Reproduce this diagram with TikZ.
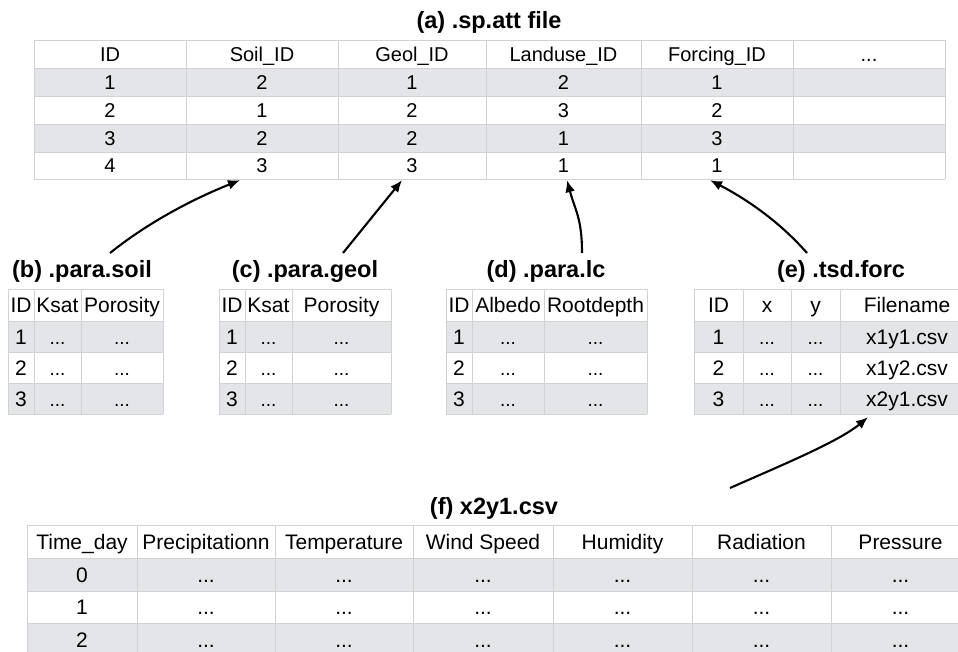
\documentclass[tikz,border=0pt]{standalone}
\usepackage{fontspec}
\setmainfont{Liberation Sans}
\usetikzlibrary{arrows.meta,calc}
\definecolor{rowg}{HTML}{E4E5E8}
\definecolor{gridc}{HTML}{D2D2D4}
\newcommand\dotsx{...}
\newcommand\sdots{{\fontsize{19}{22}\selectfont ...}}
\newcommand\trow[8]{%
  \foreach \t [count=\ci] in {#8}{%
    \pgfmathsetmacro\xc{#6[\ci-1]}%
    \pgfmathsetmacro\wc{#7[\ci-1]}%
    \node[#5,minimum width=\wc pt,minimum height=#4pt] (#1-#2-\ci) at (\xc,#3) {\t};
  }}
\tikzset{
  cellA/.style={inner sep=0pt,anchor=center,font=\fontsize{20}{24}\selectfont,text height=14.3pt,text depth=0pt},
  cellB/.style={inner sep=0pt,anchor=center,font=\fontsize{21}{25}\selectfont,text height=15pt,text depth=0pt},
  gridl/.style={draw=gridc,line width=0.9pt},
  ttl/.style={font=\bfseries\fontsize{23.5}{28}\selectfont,anchor=base,inner sep=0pt},
  arr/.style={line width=2.1pt,-{Latex[length=12pt,width=10pt]}},
}
\begin{document}
\begin{tikzpicture}[x=1pt,y=-1pt]
\useasboundingbox (0,0) rectangle (958,652);
\clip (0,0) rectangle (958,652);
\fill[white] (0,0) rectangle (958,652);
% ---------- (a)
\def\axs{{110,262,412,563.5,717,869}}
\def\aws{{152,152,148,155,152,152}}
\node[ttl] (ta) at (489,29) {(a) .sp.att file};
\trow{a}{1}{54}{28}{fill=white,cellA}{\axs}{\aws}{ID,Soil\_ID,Geol\_ID,Landuse\_ID,Forcing\_ID,\dotsx}
\trow{a}{2}{82}{28}{fill=rowg,cellA}{\axs}{\aws}{1,2,1,2,1,{}}
\trow{a}{3}{110}{28}{fill=white,cellA}{\axs}{\aws}{2,1,2,3,2,{}}
\trow{a}{4}{138}{28}{fill=rowg,cellA}{\axs}{\aws}{3,2,2,1,3,{}}
\trow{a}{5}{165.5}{27}{fill=white,cellA}{\axs}{\aws}{4,3,3,1,1,{}}
\foreach \x in {34,186,338,486,641,793,945} \draw[gridl] (\x,40) -- (\x,179);
\foreach \y in {40,68,96,124,152,179} \draw[gridl] (34,\y) -- (945,\y);
% ---------- (b)
\def\bxs{{21,57.5,122}}
\def\bws{{26,47,82}}
\node[ttl] (tb) at (82,277) {(b) .para.soil};
\trow{b}{1}{305}{32}{fill=white,cellB}{\bxs}{\bws}{ID,Ksat,Porosity}
\trow{b}{2}{336.5}{31}{fill=rowg,cellB}{\bxs}{\bws}{1,\sdots,\sdots}
\trow{b}{3}{367.5}{31}{fill=white,cellB}{\bxs}{\bws}{2,\sdots,\sdots}
\trow{b}{4}{398.5}{31}{fill=rowg,cellB}{\bxs}{\bws}{3,\sdots,\sdots}
\foreach \x in {8,34,81,163} \draw[gridl] (\x,289) -- (\x,414);
\foreach \y in {289,321,352,383,414} \draw[gridl] (8,\y) -- (163,\y);
% ---------- (c)
\def\cxs{{232,268.5,341.5}}
\def\cws{{26,47,99}}
\node[ttl] (tc) at (305,277) {(c) .para.geol};
\trow{c}{1}{305}{32}{fill=white,cellB}{\cxs}{\cws}{ID,Ksat,Porosity}
\trow{c}{2}{336.5}{31}{fill=rowg,cellB}{\cxs}{\cws}{1,\sdots,\sdots}
\trow{c}{3}{367.5}{31}{fill=white,cellB}{\cxs}{\cws}{2,\sdots,\sdots}
\trow{c}{4}{398.5}{31}{fill=rowg,cellB}{\cxs}{\cws}{3,\sdots,\sdots}
\foreach \x in {219,245,292,391} \draw[gridl] (\x,289) -- (\x,414);
\foreach \y in {289,321,352,383,414} \draw[gridl] (219,\y) -- (391,\y);
% ---------- (d)
\def\dxs{{459,508,595.5}}
\def\dws{{26,72,103}}
\node[ttl] (td) at (546,277) {(d) .para.lc};
\trow{d}{1}{305}{32}{fill=white,cellB}{\dxs}{\dws}{ID,Albedo,Rootdepth}
\trow{d}{2}{336.5}{31}{fill=rowg,cellB}{\dxs}{\dws}{1,\sdots,\sdots}
\trow{d}{3}{367.5}{31}{fill=white,cellB}{\dxs}{\dws}{2,\sdots,\sdots}
\trow{d}{4}{398.5}{31}{fill=rowg,cellB}{\dxs}{\dws}{3,\sdots,\sdots}
\foreach \x in {446,472,544,647} \draw[gridl] (\x,289) -- (\x,414);
\foreach \y in {289,321,352,383,414} \draw[gridl] (446,\y) -- (647,\y);
% ---------- (e)
\def\exs{{718.5,767,815.5,907}}
\def\ews{{49,48,49,134}}
\node[ttl] (te) at (841,277) {(e) .tsd.forc};
\trow{e}{1}{305}{32}{fill=white,cellB}{\exs}{\ews}{ID,x,y,Filename}
\trow{e}{2}{336.5}{31}{fill=rowg,cellB}{\exs}{\ews}{1,\sdots,\sdots,x1y1.csv}
\trow{e}{3}{367.5}{31}{fill=white,cellB}{\exs}{\ews}{2,\sdots,\sdots,x1y2.csv}
\trow{e}{4}{398.5}{31}{fill=rowg,cellB}{\exs}{\ews}{3,\sdots,\sdots,x2y1.csv}
\foreach \x in {694,743,791,840,974} \draw[gridl] (\x,289) -- (\x,414);
\foreach \y in {289,321,352,383,414} \draw[gridl] (694,\y) -- (974,\y);
% ---------- (f)
\def\fxs{{82,206,344,483,622.5,761.5,900.5}}
\def\fws{{110,138,138,140,139,139,139}}
\node[ttl] (tf) at (494,514) {(f) x2y1.csv};
\trow{f}{1}{541.5}{33}{fill=white,cellB}{\fxs}{\fws}{Time\_day,Precipitationn,Temperature,Wind Speed,Humidity,Radiation,Pressure}
\trow{f}{2}{574.5}{33}{fill=rowg,cellB}{\fxs}{\fws}{0,\dotsx,\dotsx,\dotsx,\dotsx,\dotsx,\dotsx}
\trow{f}{3}{607}{32}{fill=white,cellB}{\fxs}{\fws}{1,\dotsx,\dotsx,\dotsx,\dotsx,\dotsx,\dotsx}
\trow{f}{4}{639.5}{33}{fill=rowg,cellB}{\fxs}{\fws}{2,\dotsx,\dotsx,\dotsx,\dotsx,\dotsx,\dotsx}
\foreach \x in {27,137,275,413,553,692,831,970} \draw[gridl] (\x,525) -- (\x,656);
\foreach \y in {525,558,591,623,656} \draw[gridl] (27,\y) -- (970,\y);
% ---------- arrows
\coordinate (sb) at (110,253);
\coordinate (sc) at (343,253);
\coordinate (sd) at (582,253);
\coordinate (se) at (807,253);
\coordinate (sf) at (730,488);
\coordinate (eb) at ($(a-5-2.south)+(-22,1)$);
\coordinate (ec) at ($(a-5-3.south)+(-10,1)$);
\coordinate (ed) at ($(a-5-4.south)+(3.5,1)$);
\coordinate (ee) at ($(a-5-5.south)+(-7,1)$);
\coordinate (ef) at ($(e-4-4.south)+(-39,3)$);
\draw[arr] (sb) .. controls +(40,-32) and +(-45,18) .. (eb);
\draw[arr] (sc) -- (ec);
\draw[arr] (sd) .. controls +(0,-35) and +(8,30) .. (ed);
\draw[arr] (se) .. controls +(-28,-32) and +(35,18) .. (ee);
\draw[arr] (sf) .. controls +(45,-20) and +(-30,25) .. (ef);
\end{tikzpicture}
\end{document}
